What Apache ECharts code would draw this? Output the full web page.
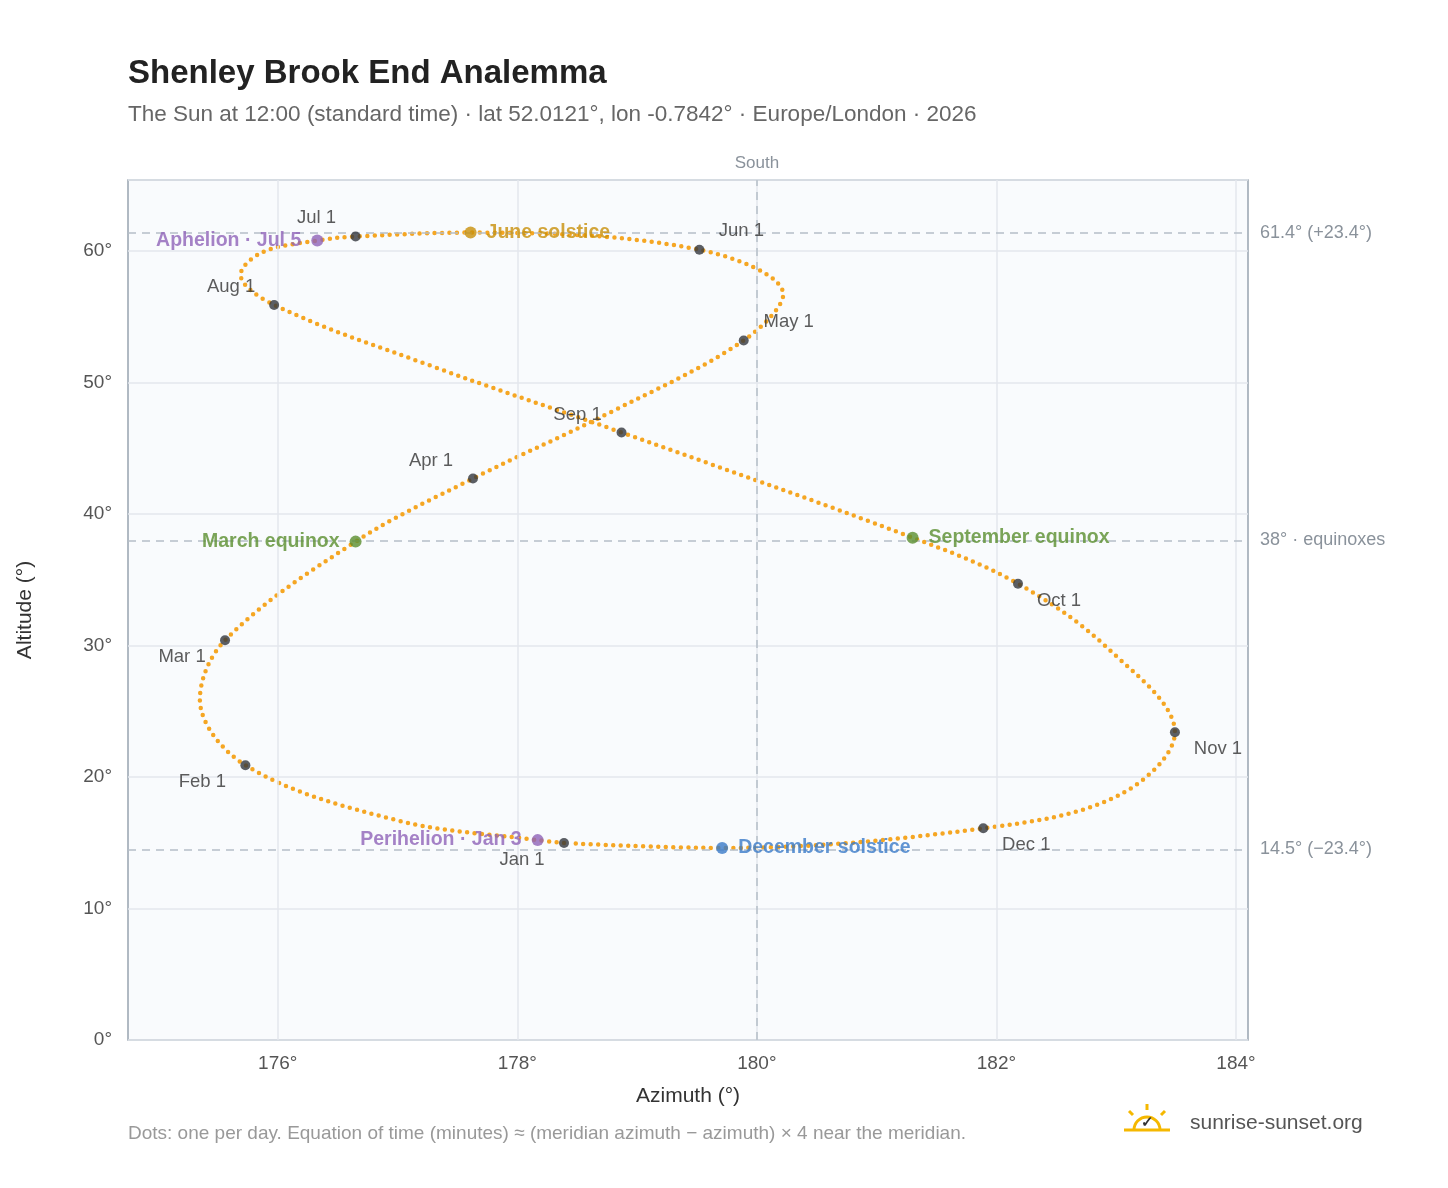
<!DOCTYPE html>
<html><head><meta charset="utf-8">
<script src="https://cdn.jsdelivr.net/npm/echarts@6/dist/echarts.min.js"></script>
<style>html,body{margin:0;background:#fff}#c{width:1448px;height:1188px}</style>
</head><body><div id="c"></div>
<script>
// Path: [azimuth, altitude] in date order
const pathPoints = [
 [178.39,14.98],[178.17,15.2],[177.0,16.7],[175.73,20.9],[175.35,25.9],[175.56,30.4],
 [176.65,37.9],[177.63,42.7],[178.77,47.7],[179.89,53.2],[180.22,56.7],[179.52,60.1],
 [177.61,61.4],[176.65,61.1],[176.33,60.8],[175.87,59.9],[175.69,58.2],[175.97,55.9],
 [177.27,51.3],[178.87,46.2],[181.30,38.2],[182.18,34.7],[182.94,29.7],[183.49,23.4],
 [183.02,18.6],[181.89,16.1],[179.71,14.6],[178.45,14.95]
];
const monthNames = ['Jan 1','Feb 1','Mar 1','Apr 1','May 1','Jun 1','Jul 1','Aug 1','Sep 1','Oct 1','Nov 1','Dec 1'];
const monthAz = [178.39,175.73,175.56,177.63,179.89,179.52,176.65,175.97,178.87,182.18,183.49,181.89];
const monthAlt = [14.98,20.9,30.4,42.7,53.2,60.1,61.1,55.9,46.2,34.7,23.4,16.1];
const eventNames = ['Aphelion · Jul 5','Perihelion · Jan 3','June solstice','December solstice','March equinox','September equinox'];
const eventAz = [176.33,178.17,177.61,179.71,176.65,181.30];
const eventAlt = [60.8,15.2,61.4,14.6,37.9,38.2];
const refAlt = [61.4,38,14.5];
const refLabels = ['61.4° (+23.4°)','38° · equinoxes','14.5° (−23.4°)'];
const xTicks = [176,178,180,182,184];

const monthOffsets = [[-42,17],[-43,17],[-43,17],[-42,-18],[45,-19],[42,-19],[-39,-19],[-43,-18],[-44,-18],[41,17],[43,17],[43,17]];
const eventStyle = [
 {c:'#8e63b8',p:'left'},{c:'#8e63b8',p:'left'},{c:'#c8900a',p:'right'},
 {c:'#3a7bc8',p:'right'},{c:'#5a8f2e',p:'left'},{c:'#5a8f2e',p:'right'}];

const chart = echarts.init(document.getElementById('c'));
const F = 'Liberation Sans, Arial, sans-serif';
chart.setOption({
 animation:false,
 textStyle:{fontFamily:F},
 title:{text:'Shenley Brook End Analemma',left:123,top:52,
   textStyle:{fontSize:33,fontWeight:'bold',color:'#222'},
   subtext:'The Sun at 12:00 (standard time) · lat 52.0121°, lon -0.7842° · Europe/London · 2026',
   subtextStyle:{fontSize:22.5,color:'#666'},itemGap:13},
 grid:{left:128,right:200,top:180,bottom:148,show:true,backgroundColor:'#f9fbfd',borderColor:'#98a4b0',borderWidth:1.5},
 xAxis:{type:'value',min:174.75,max:184.1,name:'Azimuth (°)',nameLocation:'middle',nameGap:46,
   nameTextStyle:{fontSize:21,color:'#333'},
   axisLine:{show:false},axisTick:{show:false},splitLine:{show:false},
   axisLabel:{customValues:xTicks,formatter:v=>v+'°',fontSize:19,color:'#555',margin:14}},
 yAxis:{type:'value',min:0,max:65.4,interval:10,name:'Altitude (°)',nameLocation:'middle',nameGap:92,
   nameTextStyle:{fontSize:21,color:'#333'},
   axisLine:{show:false},axisTick:{show:false},
   splitLine:{lineStyle:{color:'#e3e7ec',width:1.5}},
   axisLabel:{formatter:(v)=>v+'°',fontSize:19,color:'#555',showMaxLabel:false,margin:16}},
 series:[
  {type:'line',data:pathPoints,smooth:0.35,symbol:'none',z:3,
   lineStyle:{color:'#f5a623',width:4.5,cap:'round',type:[0,7.5]},
   markLine:{silent:true,symbol:'none',
     data:[
      ...xTicks.map(v=>({xAxis:v,lineStyle:{color:'#e3e7ec',width:1.5,type:'solid'},label:{show:false}})),
      ...refAlt.map((v,i)=>({yAxis:v,lineStyle:{color:'#b5bec8',width:1.5,type:[8,6]},
        label:{show:true,position:'end',formatter:refLabels[i],color:'#8a929b',fontSize:18,distance:12}})),
      {xAxis:180,lineStyle:{color:'#b5bec8',width:1.5,type:[8,6]},
        label:{show:true,position:'end',formatter:'South',color:'#8a929b',fontSize:17,distance:8}}
     ]}},
  {type:'scatter',z:5,symbolSize:10,itemStyle:{color:'#33373d'},
   data:monthNames.map((n,i)=>({value:[monthAz[i],monthAlt[i]],
     label:{show:true,formatter:n,position:'inside',offset:monthOffsets[i],fontSize:18.5,color:'#333'}}))},
  {type:'scatter',z:6,symbolSize:12,
   data:eventNames.map((n,i)=>({value:[eventAz[i],eventAlt[i]],itemStyle:{color:eventStyle[i].c},
     label:{show:true,formatter:n,position:eventStyle[i].p,distance:10,fontSize:19.5,fontWeight:'bold',color:eventStyle[i].c}}))}
 ],
 graphic:[
  {type:'text',left:128,top:1124,style:{text:'Dots: one per day. Equation of time (minutes) ≈ (meridian azimuth − azimuth) × 4 near the meridian.',fontSize:19,fill:'#999',fontFamily:F}},
  {type:'text',left:1190,top:1113,style:{text:'sunrise-sunset.org',fontSize:21,fill:'#555',fontFamily:F}},
  {type:'arc',shape:{cx:1147,cy:1130,r:13,startAngle:Math.PI,endAngle:2*Math.PI},style:{stroke:'#f5b800',lineWidth:3,fill:null}},
  {type:'line',shape:{x1:1124,y1:1130,x2:1170,y2:1130},style:{stroke:'#f5b800',lineWidth:3}},
  {type:'line',shape:{x1:1147,y1:1104,x2:1147,y2:1110},style:{stroke:'#f5b800',lineWidth:3}},
  {type:'line',shape:{x1:1129,y1:1111,x2:1133,y2:1115},style:{stroke:'#f5b800',lineWidth:3}},
  {type:'line',shape:{x1:1165,y1:1111,x2:1161,y2:1115},style:{stroke:'#f5b800',lineWidth:3}},
  {type:'text',left:1141,top:1115,style:{text:'✓',fontSize:15,fill:'#333',fontWeight:'bold'}}
 ]
});
</script></body></html>
